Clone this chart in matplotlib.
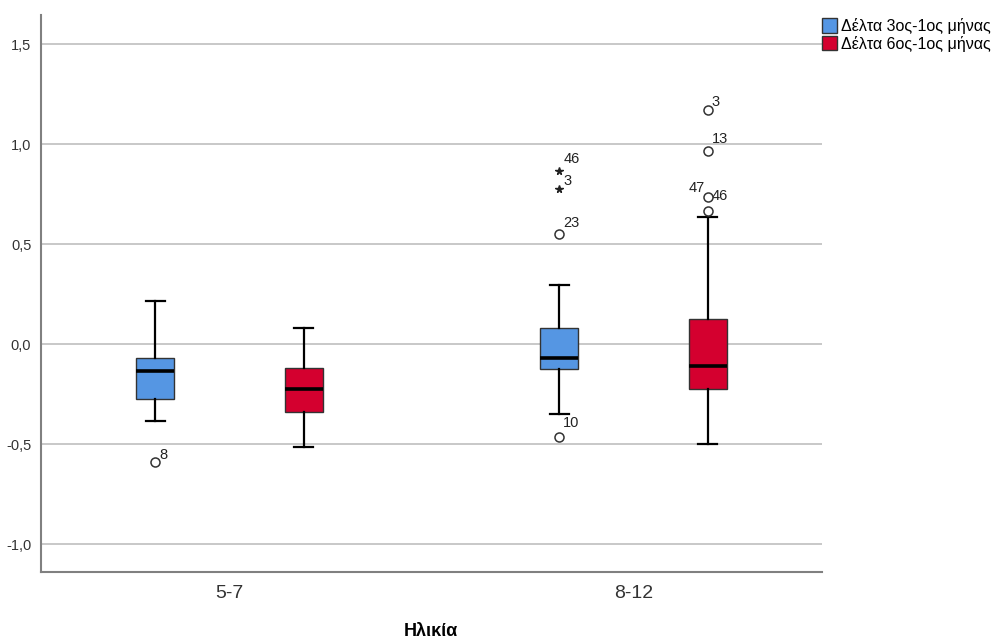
import matplotlib
matplotlib.use('Agg')
import matplotlib.pyplot as plt
from matplotlib.patches import Patch
from matplotlib.ticker import FuncFormatter

plt.rc('font', family=['Liberation Sans', 'DejaVu Sans'])

# data
groups = ['5-7', '8-12']
series = ['Δέλτα 3ος-1ος μήνας', 'Δέλτα 6ος-1ος μήνας']
colors = ['#5596E3', '#D4002F']

# per series, per group: whislo, q1, med, q3, whishi
whislo = [[-0.385, -0.35], [-0.515, -0.50]]
q1 = [[-0.275, -0.125], [-0.34, -0.225]]
med = [[-0.135, -0.07], [-0.225, -0.11]]
q3 = [[-0.07, 0.08], [-0.12, 0.125]]
whishi = [[0.215, 0.295], [0.08, 0.635]]

# outliers: (series, group, value, case label, label dx, label dy)
circles = [
    (0, 0, -0.59, '8', 3, 2),
    (0, 1, -0.465, '10', 3, 7),
    (0, 1, 0.55, '23', 3, 5),
    (1, 1, 0.665, '47', -14, 14),
    (1, 1, 0.735, '46', 3, -2),
    (1, 1, 0.965, '13', 3, 6),
    (1, 1, 1.17, '3', 3, 3),
]
stars = [
    (0, 1, 0.775, '3', 3, 3),
    (0, 1, 0.865, '46', 3, 6),
]

offset = 0.184
bw = 0.094

fig = plt.figure(figsize=(10.02, 6.42), dpi=100)
ax = fig.add_axes([0.041, 0.109, 0.7794, 0.8675])

for s in range(2):
    stats = []
    pos = []
    for g in range(2):
        stats.append(dict(whislo=whislo[s][g], q1=q1[s][g], med=med[s][g],
                          q3=q3[s][g], whishi=whishi[s][g], fliers=[]))
        pos.append(g + (-offset if s == 0 else offset))
    ax.bxp(stats, positions=pos, widths=bw, patch_artist=True,
           boxprops=dict(facecolor=colors[s], edgecolor='#333333', linewidth=1),
           medianprops=dict(color='black', linewidth=2.6),
           whiskerprops=dict(color='black', linewidth=1.6),
           capprops=dict(color='black', linewidth=1.6),
           showfliers=False, zorder=3)

for s, g, v, lab, dx, dy in circles:
    x = g + (-offset if s == 0 else offset)
    ax.plot(x, v, 'o', mfc='white', mec='#333333', ms=6.5, mew=1.1, zorder=4)
    ax.annotate(lab, (x, v), xytext=(dx, dy), textcoords='offset points',
                fontsize=10.5, color='#222222')
for s, g, v, lab, dx, dy in stars:
    x = g + (-offset if s == 0 else offset)
    ax.plot(x, v, '*', color='#222222', ms=5.5, zorder=4)
    ax.annotate(lab, (x, v), xytext=(dx, dy), textcoords='offset points',
                fontsize=10.5, color='#222222')

ax.set_xlim(-0.467, 1.467)
ax.set_ylim(-1.14, 1.645)
ax.set_yticks([-1.0, -0.5, 0.0, 0.5, 1.0, 1.5])
ax.yaxis.set_major_formatter(FuncFormatter(lambda v, p: f'{v:.1f}'.replace('.', ',')))
ax.set_xticks([0, 1])
ax.set_xticklabels(groups, fontsize=14, color='#333333')
ax.tick_params(axis='y', length=0, labelsize=10.5, colors='#333333', pad=7)
ax.tick_params(axis='x', length=0, pad=9)
ax.grid(axis='y', color='#C8C8C8', linewidth=1.4, zorder=0)
ax.set_axisbelow(True)
for sp in ['top', 'right']:
    ax.spines[sp].set_visible(False)
for sp in ['left', 'bottom']:
    ax.spines[sp].set_color('#808080')
    ax.spines[sp].set_linewidth(1.5)

handles = [Patch(facecolor=c, edgecolor='#333333', label=l) for c, l in zip(colors, series)]
fig.legend(handles=handles, loc='upper left', bbox_to_anchor=(0.8135, 0.982),
           frameon=False, fontsize=11.5, handlelength=0.95, handleheight=1.0,
           handletextpad=0.25, labelspacing=0.1, borderaxespad=0)

fig.text(0.430, 0.003, 'Ηλικία', fontsize=13, fontweight='bold', ha='center', va='bottom')

fig.savefig('out.png', dpi=100)
